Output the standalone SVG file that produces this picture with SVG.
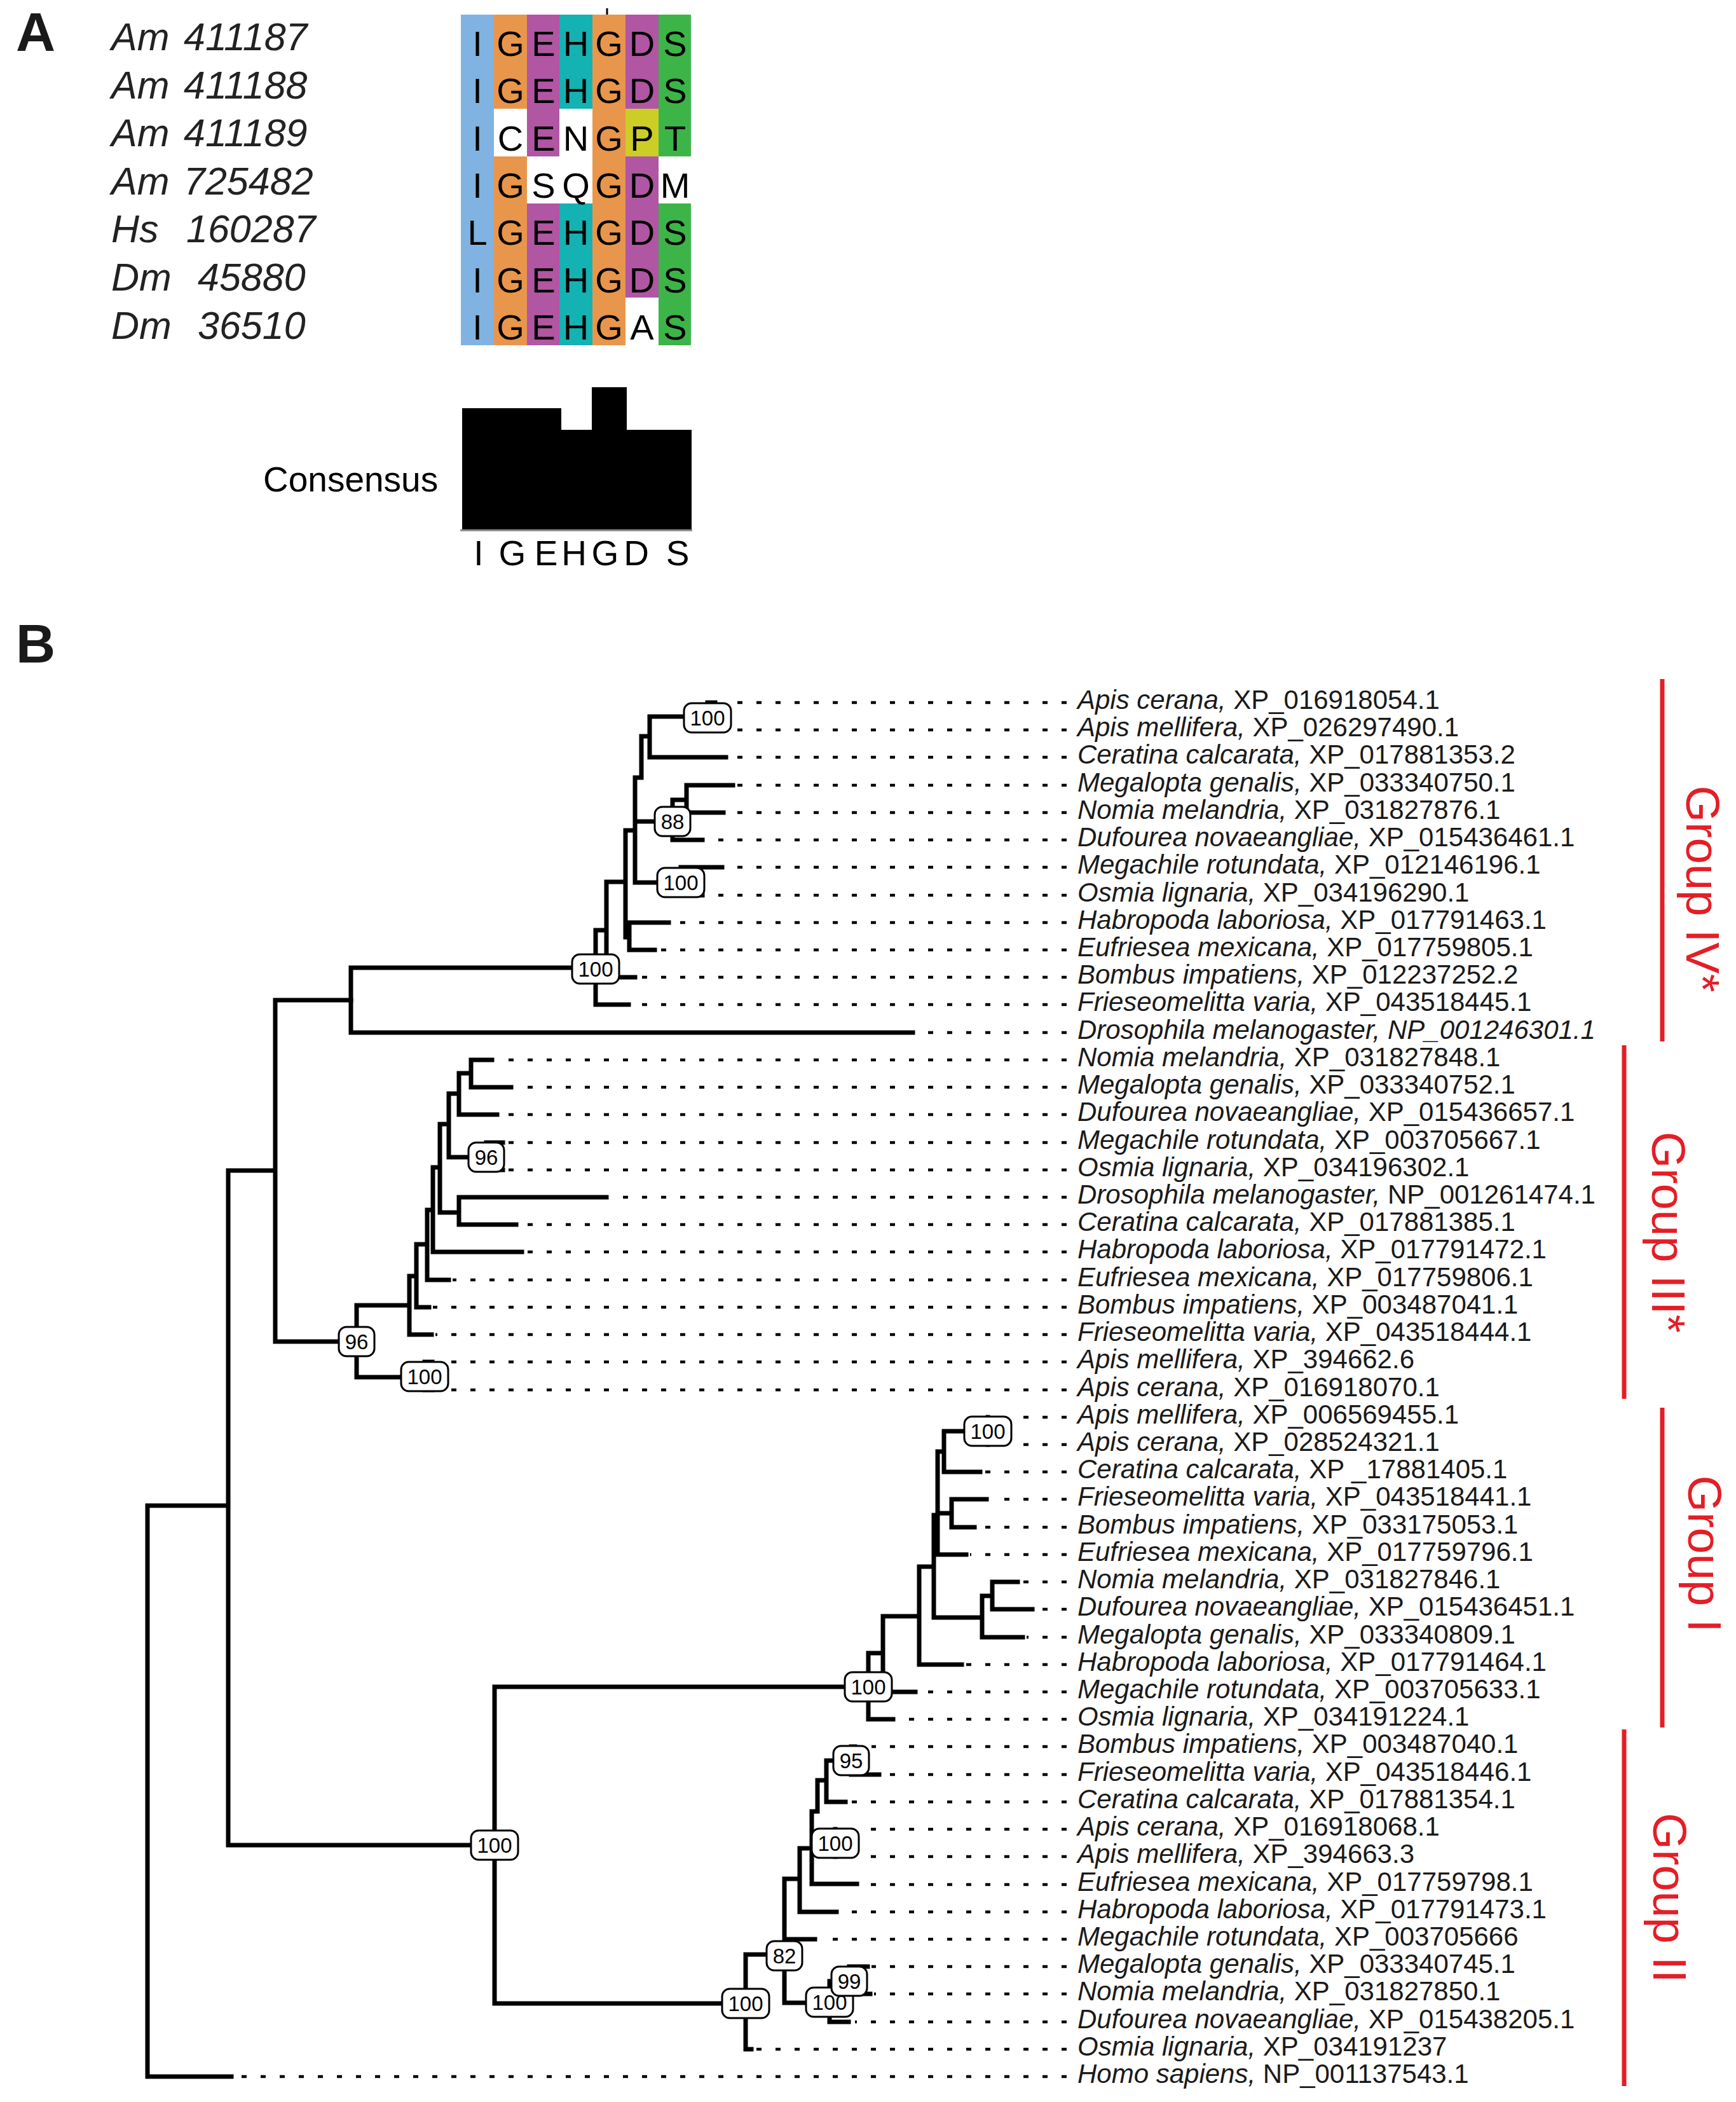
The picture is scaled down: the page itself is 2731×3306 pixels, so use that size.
<svg xmlns="http://www.w3.org/2000/svg" width="2731" height="3306" viewBox="0 0 2731 3306">
<style>
.pl{font-family:"Liberation Sans",Arial,sans-serif;font-weight:bold;font-size:86px;fill:#1a1a1a}
.nm{font-family:"Liberation Sans",Arial,sans-serif;font-style:italic;font-size:61px;fill:#222}
.aa{font-family:"Liberation Sans",Arial,sans-serif;font-size:56px;fill:#000;text-anchor:middle}
.cs{font-family:"Liberation Sans",Arial,sans-serif;font-size:55px;fill:#000}
.br{fill:none;stroke:#000;stroke-width:7;stroke-linecap:square}
.ld{stroke:#000;stroke-width:4.5;stroke-dasharray:8 22}
.lb{font-family:"Liberation Sans",Arial,sans-serif;font-size:42px;fill:#1a1a1a}
.it{font-style:italic}
.bs rect{fill:#fff;stroke:#000;stroke-width:3}
.bs text{font-family:"Liberation Sans",Arial,sans-serif;font-size:33px;text-anchor:middle;fill:#000}
.grp{font-family:"Liberation Sans",Arial,sans-serif;font-size:74px;fill:#e41e26;text-anchor:middle}
.gl{stroke:#e41e26;stroke-width:7}
</style>
<rect width="2731" height="3306" fill="#fff"/>

<!-- Panel A -->
<text class="pl" x="25" y="80">A</text>
<g id="names">
<text class="nm" y="79"><tspan x="175">Am </tspan><tspan x="289">411187</tspan></text>
<text class="nm" y="155"><tspan x="175">Am </tspan><tspan x="289">411188</tspan></text>
<text class="nm" y="230"><tspan x="175">Am </tspan><tspan x="289">411189</tspan></text>
<text class="nm" y="306"><tspan x="175">Am </tspan><tspan x="289">725482</tspan></text>
<text class="nm" y="381"><tspan x="175">Hs </tspan><tspan x="293">160287</tspan></text>
<text class="nm" y="457"><tspan x="175">Dm </tspan><tspan x="311">45880</tspan></text>
<text class="nm" y="533"><tspan x="175">Dm </tspan><tspan x="311">36510</tspan></text>
</g>
<g id="alignment">
<rect x="725" y="23" width="52" height="520" fill="#80b3e1"/>
<rect x="777" y="23" width="52" height="148" fill="#e8964b"/>
<rect x="777" y="246" width="52" height="297" fill="#e8964b"/>
<rect x="829" y="23" width="51" height="223" fill="#b056a3"/>
<rect x="829" y="320" width="51" height="223" fill="#b056a3"/>
<rect x="880" y="23" width="52" height="148" fill="#14b2b2"/>
<rect x="880" y="320" width="52" height="223" fill="#14b2b2"/>
<rect x="932" y="23" width="52" height="520" fill="#e8964b"/>
<rect x="984" y="23" width="52" height="148" fill="#b056a3"/>
<rect x="984" y="171" width="52" height="75" fill="#cdcd28"/>
<rect x="984" y="246" width="52" height="222" fill="#b056a3"/>
<rect x="1036" y="23" width="51" height="223" fill="#3db448"/>
<rect x="1036" y="320" width="51" height="223" fill="#3db448"/>
<line x1="955" y1="13" x2="955" y2="23" stroke="#000" stroke-width="3"/>
<g class="aa">
<text y="88"><tspan x="751">I</tspan><tspan x="803">G</tspan><tspan x="855">E</tspan><tspan x="906">H</tspan><tspan x="958">G</tspan><tspan x="1010">D</tspan><tspan x="1062">S</tspan></text>
<text y="162"><tspan x="751">I</tspan><tspan x="803">G</tspan><tspan x="855">E</tspan><tspan x="906">H</tspan><tspan x="958">G</tspan><tspan x="1010">D</tspan><tspan x="1062">S</tspan></text>
<text y="237"><tspan x="751">I</tspan><tspan x="803">C</tspan><tspan x="855">E</tspan><tspan x="906">N</tspan><tspan x="958">G</tspan><tspan x="1010">P</tspan><tspan x="1062">T</tspan></text>
<text y="311"><tspan x="751">I</tspan><tspan x="803">G</tspan><tspan x="855">S</tspan><tspan x="906">Q</tspan><tspan x="958">G</tspan><tspan x="1010">D</tspan><tspan x="1062">M</tspan></text>
<text y="385"><tspan x="751">L</tspan><tspan x="803">G</tspan><tspan x="855">E</tspan><tspan x="906">H</tspan><tspan x="958">G</tspan><tspan x="1010">D</tspan><tspan x="1062">S</tspan></text>
<text y="460"><tspan x="751">I</tspan><tspan x="803">G</tspan><tspan x="855">E</tspan><tspan x="906">H</tspan><tspan x="958">G</tspan><tspan x="1010">D</tspan><tspan x="1062">S</tspan></text>
<text y="534"><tspan x="751">I</tspan><tspan x="803">G</tspan><tspan x="855">E</tspan><tspan x="906">H</tspan><tspan x="958">G</tspan><tspan x="1010">A</tspan><tspan x="1062">S</tspan></text>
</g>
</g>
<g id="consensus">
<text class="cs" x="414" y="773">Consensus</text>
<polygon points="727,642 883,642 883,676 931,676 931,609 986,609 986,676 1088,676 1088,833 727,833" fill="#000"/>
<line x1="724" y1="834" x2="1089" y2="834" stroke="#888" stroke-width="3"/>
<text class="cs" y="889" style="text-anchor:middle"><tspan x="753">I</tspan><tspan x="806">G</tspan><tspan x="859">E</tspan><tspan x="903">H</tspan><tspan x="952">G</tspan><tspan x="1001">D</tspan><tspan x="1066">S</tspan></text>
</g>

<!-- Panel B -->
<text class="pl" x="25" y="1042">B</text>

<g id="connectors">
<path class="br" d="M232,2368 V3266 M232,2368 H359 M232,3266 H364 M359,1841 V2902 M359,1841 H433 M359,2902 H778 M433,1573 V2110 M433,2110 H561 M433,1573 H552 M778,2653 V3151 M778,2653 H1366 M778,3151 H1173"/>
<path class="br" d="M552,1522 V1624 M552,1522 H937 M552,1624 H1436 M937,1463 V1580 M937,1580 H989 M937,1463 H954 M954,1387 V1537 M954,1537 H999 M954,1387 H984 M984,1306 V1474 M984,1474 H990 M990,1451 V1494 M990,1451 H1052 M990,1494 H1030 M984,1306 H999 M999,1223 V1388 M999,1292 H1058 M999,1388 H1071 M1071,1364 V1408 M1071,1364 H1136 M1071,1408 H1105 M1058,1258 V1321 M1058,1321 H1105 M1058,1258 H1080 M1080,1235 V1278 M1080,1235 H1153 M1080,1278 H1138 M999,1223 H1009 M1009,1158 V1223 M1009,1158 H1022 M1022,1127 V1191 M1022,1191 H1142 M1022,1127 H1113 M1113,1105 V1148 M1113,1105 H1125 M1113,1148 H1125"/>
<path class="br" d="M561,2053 V2166 M561,2053 H644 M561,2166 H668 M668,2142 V2186 M668,2142 H680 M668,2186 H680 M644,2007 V2099 M644,2099 H679 M644,2007 H655 M655,1957 V2056 M655,2056 H675 M655,1957 H672 M672,1903 V2013 M672,2013 H706 M672,1903 H681 M681,1836 V1969 M681,1969 H821 M681,1836 H692 M692,1768 V1907 M692,1907 H722 M722,1883 V1926 M722,1883 H954 M722,1926 H812 M692,1768 H706 M706,1720 V1820 M706,1820 H765 M765,1797 V1840 M765,1797 H791 M765,1840 H791 M706,1720 H722 M722,1688 V1753 M722,1753 H782 M722,1688 H741 M741,1667 V1710 M741,1667 H774 M741,1710 H804"/>
<path class="br" d="M1366,2600 V2704 M1366,2704 H1405 M1366,2600 H1389 M1389,2542 V2661 M1389,2661 H1440 M1389,2542 H1446 M1446,2464 V2618 M1446,2618 H1513 M1446,2464 H1469 M1469,2383 V2544 M1469,2544 H1545 M1545,2510 V2575 M1545,2575 H1609 M1545,2510 H1561 M1561,2488 V2531 M1561,2488 H1601 M1561,2531 H1624 M1469,2383 H1475 M1475,2283 V2445 M1475,2445 H1520 M1475,2380 H1497 M1497,2358 V2402 M1497,2358 H1552 M1497,2402 H1533 M1475,2283 H1485 M1485,2251 V2315 M1485,2315 H1542 M1485,2251 H1554 M1554,2229 V2272"/>
<path class="br" d="M1173,3074 V3223 M1173,3223 H1182 M1173,3074 H1234 M1234,2955 V3150 M1234,3050 H1282 M1234,3150 H1305 M1234,2955 H1258 M1258,2907 V3007 M1258,3007 H1316 M1258,2907 H1277 M1277,2849 V2963 M1277,2963 H1348 M1277,2899 H1314 M1314,2877 V2920 M1277,2849 H1286 M1286,2800 V2849 M1286,2800 H1300 M1300,2769 V2834 M1300,2834 H1330 M1300,2769 H1339 M1339,2747 V2791 M1339,2791 H1383 M1339,2747 H1345 M1305,3116 V3180 M1305,3180 H1335 M1305,3116 H1336 M1336,3093 V3136 M1336,3093 H1365 M1336,3136 H1369"/>
<g id="leaders">
<line class="ld" x1="1678" y1="1105" x2="1156" y2="1105"/>
<line class="ld" x1="1678" y1="1148" x2="1156" y2="1148"/>
<line class="ld" x1="1678" y1="1191" x2="1148" y2="1191"/>
<line class="ld" x1="1678" y1="1235" x2="1159" y2="1235"/>
<line class="ld" x1="1678" y1="1278" x2="1144" y2="1278"/>
<line class="ld" x1="1678" y1="1321" x2="1111" y2="1321"/>
<line class="ld" x1="1678" y1="1364" x2="1142" y2="1364"/>
<line class="ld" x1="1678" y1="1408" x2="1111" y2="1408"/>
<line class="ld" x1="1678" y1="1451" x2="1058" y2="1451"/>
<line class="ld" x1="1678" y1="1494" x2="1036" y2="1494"/>
<line class="ld" x1="1678" y1="1537" x2="1005" y2="1537"/>
<line class="ld" x1="1678" y1="1580" x2="995" y2="1580"/>
<line class="ld" x1="1678" y1="1624" x2="1442" y2="1624"/>
<line class="ld" x1="1678" y1="1667" x2="780" y2="1667"/>
<line class="ld" x1="1678" y1="1710" x2="810" y2="1710"/>
<line class="ld" x1="1678" y1="1753" x2="788" y2="1753"/>
<line class="ld" x1="1678" y1="1797" x2="797" y2="1797"/>
<line class="ld" x1="1678" y1="1840" x2="797" y2="1840"/>
<line class="ld" x1="1678" y1="1883" x2="960" y2="1883"/>
<line class="ld" x1="1678" y1="1926" x2="818" y2="1926"/>
<line class="ld" x1="1678" y1="1969" x2="827" y2="1969"/>
<line class="ld" x1="1678" y1="2013" x2="712" y2="2013"/>
<line class="ld" x1="1678" y1="2056" x2="681" y2="2056"/>
<line class="ld" x1="1678" y1="2099" x2="685" y2="2099"/>
<line class="ld" x1="1678" y1="2142" x2="710" y2="2142"/>
<line class="ld" x1="1678" y1="2186" x2="710" y2="2186"/>
<line class="ld" x1="1678" y1="2229" x2="1595" y2="2229"/>
<line class="ld" x1="1678" y1="2272" x2="1595" y2="2272"/>
<line class="ld" x1="1678" y1="2315" x2="1548" y2="2315"/>
<line class="ld" x1="1678" y1="2358" x2="1558" y2="2358"/>
<line class="ld" x1="1678" y1="2402" x2="1539" y2="2402"/>
<line class="ld" x1="1678" y1="2445" x2="1526" y2="2445"/>
<line class="ld" x1="1678" y1="2488" x2="1607" y2="2488"/>
<line class="ld" x1="1678" y1="2531" x2="1630" y2="2531"/>
<line class="ld" x1="1678" y1="2575" x2="1615" y2="2575"/>
<line class="ld" x1="1678" y1="2618" x2="1519" y2="2618"/>
<line class="ld" x1="1678" y1="2661" x2="1446" y2="2661"/>
<line class="ld" x1="1678" y1="2704" x2="1411" y2="2704"/>
<line class="ld" x1="1678" y1="2747" x2="1371" y2="2747"/>
<line class="ld" x1="1678" y1="2791" x2="1389" y2="2791"/>
<line class="ld" x1="1678" y1="2834" x2="1336" y2="2834"/>
<line class="ld" x1="1678" y1="2877" x2="1355" y2="2877"/>
<line class="ld" x1="1678" y1="2920" x2="1355" y2="2920"/>
<line class="ld" x1="1678" y1="2964" x2="1354" y2="2964"/>
<line class="ld" x1="1678" y1="3007" x2="1322" y2="3007"/>
<line class="ld" x1="1678" y1="3050" x2="1288" y2="3050"/>
<line class="ld" x1="1678" y1="3093" x2="1371" y2="3093"/>
<line class="ld" x1="1678" y1="3136" x2="1375" y2="3136"/>
<line class="ld" x1="1678" y1="3180" x2="1345" y2="3180"/>
<line class="ld" x1="1678" y1="3223" x2="1188" y2="3223"/>
<line class="ld" x1="1678" y1="3266" x2="370" y2="3266"/>
</g>
</g>

<!-- bootstrap nodes -->
<g id="bs-iv-apis" class="bs"><rect x="1076" y="1106" width="74" height="46" rx="12"/><text x="1113" y="1141">100</text></g>
<g id="bs-iv-root" class="bs"><rect x="900" y="1501" width="74" height="46" rx="12"/><text x="937" y="1536">100</text></g>
<g id="bs-iv-88" class="bs"><rect x="1030" y="1269" width="56" height="46" rx="12"/><text x="1058" y="1304">88</text></g>
<g id="bs-iv-100b" class="bs"><rect x="1034" y="1365" width="74" height="46" rx="12"/><text x="1071" y="1400">100</text></g>
<g id="bs-iii-root" class="bs"><rect x="533" y="2087" width="56" height="46" rx="12"/><text x="561" y="2122">96</text></g>
<g id="bs-iii-96b" class="bs"><rect x="737" y="1797" width="56" height="46" rx="12"/><text x="765" y="1832">96</text></g>
<g id="bs-iii-apis" class="bs"><rect x="631" y="2142" width="74" height="46" rx="12"/><text x="668" y="2177">100</text></g>
<g id="bs-backbone" class="bs"><rect x="741" y="2879" width="74" height="46" rx="12"/><text x="778" y="2914">100</text></g>
<g id="bs-i-root" class="bs"><rect x="1329" y="2630" width="74" height="46" rx="12"/><text x="1366" y="2665">100</text></g>
<g id="bs-i-apis" class="bs"><rect x="1517" y="2228" width="74" height="46" rx="12"/><text x="1554" y="2263">100</text></g>
<g id="bs-ii-root" class="bs"><rect x="1136" y="3128" width="74" height="46" rx="12"/><text x="1173" y="3163">100</text></g>
<g id="bs-ii-82" class="bs"><rect x="1206" y="3053" width="56" height="46" rx="12"/><text x="1234" y="3088">82</text></g>
<g id="bs-ii-100c" class="bs"><rect x="1268" y="3126" width="74" height="46" rx="12"/><text x="1305" y="3161">100</text></g>
<g id="bs-ii-99" class="bs"><rect x="1308" y="3093" width="56" height="46" rx="12"/><text x="1336" y="3128">99</text></g>
<g id="bs-ii-100d" class="bs"><rect x="1277" y="2876" width="74" height="46" rx="12"/><text x="1314" y="2911">100</text></g>
<g id="bs-ii-95" class="bs"><rect x="1311" y="2746" width="56" height="46" rx="12"/><text x="1339" y="2781">95</text></g>

<!-- leaf labels -->
<g id="leaves" class="lb">
<g id="leaf-0"><text x="1695" y="1115"><tspan class="it">Apis cerana,</tspan> XP_016918054.1</text></g>
<g id="leaf-1"><text x="1695" y="1158"><tspan class="it">Apis mellifera,</tspan> XP_026297490.1</text></g>
<g id="leaf-2"><text x="1695" y="1201"><tspan class="it">Ceratina calcarata,</tspan> XP_017881353.2</text></g>
<g id="leaf-3"><text x="1695" y="1245"><tspan class="it">Megalopta genalis,</tspan> XP_033340750.1</text></g>
<g id="leaf-4"><text x="1695" y="1288"><tspan class="it">Nomia melandria,</tspan> XP_031827876.1</text></g>
<g id="leaf-5"><text x="1695" y="1331"><tspan class="it">Dufourea novaeangliae,</tspan> XP_015436461.1</text></g>
<g id="leaf-6"><text x="1695" y="1374"><tspan class="it">Megachile rotundata,</tspan> XP_012146196.1</text></g>
<g id="leaf-7"><text x="1695" y="1418"><tspan class="it">Osmia lignaria,</tspan> XP_034196290.1</text></g>
<g id="leaf-8"><text x="1695" y="1461"><tspan class="it">Habropoda laboriosa,</tspan> XP_017791463.1</text></g>
<g id="leaf-9"><text x="1695" y="1504"><tspan class="it">Eufriesea mexicana,</tspan> XP_017759805.1</text></g>
<g id="leaf-10"><text x="1695" y="1547"><tspan class="it">Bombus impatiens,</tspan> XP_012237252.2</text></g>
<g id="leaf-11"><text x="1695" y="1590"><tspan class="it">Frieseomelitta varia,</tspan> XP_043518445.1</text></g>
<g id="leaf-12"><text x="1695" y="1634" class="it">Drosophila melanogaster, NP_001246301.1</text></g>
<g id="leaf-13"><text x="1695" y="1677"><tspan class="it">Nomia melandria,</tspan> XP_031827848.1</text></g>
<g id="leaf-14"><text x="1695" y="1720"><tspan class="it">Megalopta genalis,</tspan> XP_033340752.1</text></g>
<g id="leaf-15"><text x="1695" y="1763"><tspan class="it">Dufourea novaeangliae,</tspan> XP_015436657.1</text></g>
<g id="leaf-16"><text x="1695" y="1807"><tspan class="it">Megachile rotundata,</tspan> XP_003705667.1</text></g>
<g id="leaf-17"><text x="1695" y="1850"><tspan class="it">Osmia lignaria,</tspan> XP_034196302.1</text></g>
<g id="leaf-18"><text x="1695" y="1893"><tspan class="it">Drosophila melanogaster,</tspan> NP_001261474.1</text></g>
<g id="leaf-19"><text x="1695" y="1936"><tspan class="it">Ceratina calcarata,</tspan> XP_017881385.1</text></g>
<g id="leaf-20"><text x="1695" y="1979"><tspan class="it">Habropoda laboriosa,</tspan> XP_017791472.1</text></g>
<g id="leaf-21"><text x="1695" y="2023"><tspan class="it">Eufriesea mexicana,</tspan> XP_017759806.1</text></g>
<g id="leaf-22"><text x="1695" y="2066"><tspan class="it">Bombus impatiens,</tspan> XP_003487041.1</text></g>
<g id="leaf-23"><text x="1695" y="2109"><tspan class="it">Frieseomelitta varia,</tspan> XP_043518444.1</text></g>
<g id="leaf-24"><text x="1695" y="2152"><tspan class="it">Apis mellifera,</tspan> XP_394662.6</text></g>
<g id="leaf-25"><text x="1695" y="2196"><tspan class="it">Apis cerana,</tspan> XP_016918070.1</text></g>
<g id="leaf-26"><text x="1695" y="2239"><tspan class="it">Apis mellifera,</tspan> XP_006569455.1</text></g>
<g id="leaf-27"><text x="1695" y="2282"><tspan class="it">Apis cerana,</tspan> XP_028524321.1</text></g>
<g id="leaf-28"><text x="1695" y="2325"><tspan class="it">Ceratina calcarata,</tspan> XP _17881405.1</text></g>
<g id="leaf-29"><text x="1695" y="2368"><tspan class="it">Frieseomelitta varia,</tspan> XP_043518441.1</text></g>
<g id="leaf-30"><text x="1695" y="2412"><tspan class="it">Bombus impatiens,</tspan> XP_033175053.1</text></g>
<g id="leaf-31"><text x="1695" y="2455"><tspan class="it">Eufriesea mexicana,</tspan> XP_017759796.1</text></g>
<g id="leaf-32"><text x="1695" y="2498"><tspan class="it">Nomia melandria,</tspan> XP_031827846.1</text></g>
<g id="leaf-33"><text x="1695" y="2541"><tspan class="it">Dufourea novaeangliae,</tspan> XP_015436451.1</text></g>
<g id="leaf-34"><text x="1695" y="2585"><tspan class="it">Megalopta genalis,</tspan> XP_033340809.1</text></g>
<g id="leaf-35"><text x="1695" y="2628"><tspan class="it">Habropoda laboriosa,</tspan> XP_017791464.1</text></g>
<g id="leaf-36"><text x="1695" y="2671"><tspan class="it">Megachile rotundata,</tspan> XP_003705633.1</text></g>
<g id="leaf-37"><text x="1695" y="2714"><tspan class="it">Osmia lignaria,</tspan> XP_034191224.1</text></g>
<g id="leaf-38"><text x="1695" y="2757"><tspan class="it">Bombus impatiens,</tspan> XP_003487040.1</text></g>
<g id="leaf-39"><text x="1695" y="2801"><tspan class="it">Frieseomelitta varia,</tspan> XP_043518446.1</text></g>
<g id="leaf-40"><text x="1695" y="2844"><tspan class="it">Ceratina calcarata,</tspan> XP_017881354.1</text></g>
<g id="leaf-41"><text x="1695" y="2887"><tspan class="it">Apis cerana,</tspan> XP_016918068.1</text></g>
<g id="leaf-42"><text x="1695" y="2930"><tspan class="it">Apis mellifera,</tspan> XP_394663.3</text></g>
<g id="leaf-43"><text x="1695" y="2974"><tspan class="it">Eufriesea mexicana,</tspan> XP_017759798.1</text></g>
<g id="leaf-44"><text x="1695" y="3017"><tspan class="it">Habropoda laboriosa,</tspan> XP_017791473.1</text></g>
<g id="leaf-45"><text x="1695" y="3060"><tspan class="it">Megachile rotundata,</tspan> XP_003705666</text></g>
<g id="leaf-46"><text x="1695" y="3103"><tspan class="it">Megalopta genalis,</tspan> XP_033340745.1</text></g>
<g id="leaf-47"><text x="1695" y="3146"><tspan class="it">Nomia melandria,</tspan> XP_031827850.1</text></g>
<g id="leaf-48"><text x="1695" y="3190"><tspan class="it">Dufourea novaeangliae,</tspan> XP_015438205.1</text></g>
<g id="leaf-49"><text x="1695" y="3233"><tspan class="it">Osmia lignaria,</tspan> XP_034191237</text></g>
<g id="leaf-50"><text x="1695" y="3276"><tspan class="it">Homo sapiens,</tspan> NP_001137543.1</text></g>
</g>

<!-- group brackets -->
<g id="group-iv"><line class="gl" x1="2615" y1="1068" x2="2615" y2="1638"/><text class="grp" transform="translate(2653,1398) rotate(90)">Group IV*</text></g>
<g id="group-iii"><line class="gl" x1="2555" y1="1644" x2="2555" y2="2200"/><text class="grp" transform="translate(2599,1938) rotate(90)">Group III*</text></g>
<g id="group-i"><line class="gl" x1="2615" y1="2214" x2="2615" y2="2717"/><text class="grp" transform="translate(2656,2444) rotate(90)">Group I</text></g>
<g id="group-ii"><line class="gl" x1="2555" y1="2720" x2="2555" y2="3281"/><text class="grp" transform="translate(2601,2985) rotate(90)">Group II</text></g>
</svg>
